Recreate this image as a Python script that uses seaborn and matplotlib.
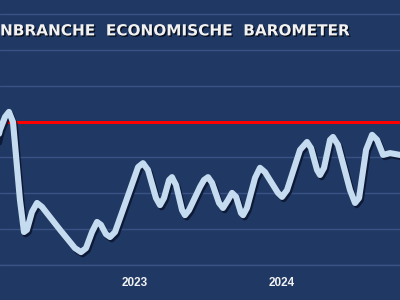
import matplotlib
matplotlib.use("Agg")
import matplotlib.pyplot as plt
import matplotlib.patheffects as pe
import seaborn as sns
import pandas as pd

# month index (12 = 2023 label, 24 = 2024 label)
months = [0.57, 0.98, 1.39, 1.71, 2.04, 2.61, 2.94, 3.18, 3.59, 4.00, 4.41, 5.88, 7.10,
          7.59, 8.00, 8.49, 8.90, 9.22, 9.63, 9.96, 10.37, 11.59, 12.25, 12.65, 13.06,
          13.71, 14.04, 14.37, 14.78, 15.02, 15.35, 15.84, 16.08, 16.41, 17.31, 17.63,
          17.96, 18.29, 18.86, 19.18, 19.59, 19.92, 20.25, 20.65, 20.82, 21.14, 21.80,
          22.20, 22.61, 23.67, 24.00, 24.41, 25.47, 26.04, 26.37, 26.86, 27.10, 27.43,
          27.92, 28.16, 28.57, 29.55, 29.96, 30.29, 30.86, 31.35, 31.76, 32.25, 32.82,
          33.63, 34.45]
barometer = [92.1, 97.7, 101.3, 102.7, 99.9, 78.1, 69.2, 69.8, 74.8, 77.3, 76.2, 69.8, 64.7,
             63.6, 64.7, 69.2, 72.0, 71.2, 68.6, 67.8, 69.2, 80.9, 87.3, 88.4, 86.5,
             78.7, 76.7, 78.7, 83.7, 84.5, 82.3, 75.3, 73.9, 75.3, 81.8, 83.7,
             84.5, 82.9, 77.3, 75.9, 78.1, 80.1, 79.0, 74.5, 73.9, 75.9, 84.3,
             87.1, 85.9, 80.1, 79.0, 80.9, 92.1, 94.3, 92.6, 86.5, 85.1, 87.1,
             94.9, 95.7, 93.5, 80.9, 77.3, 78.7, 92.1, 96.3, 94.9, 90.7, 91.2,
             90.7, 90.4]
reference_level = 100
year_ticks = [12, 24]
year_labels = ["2023", "2024"]
title = "NBRANCHE  ECONOMISCHE  BAROMETER"

df = pd.DataFrame({"maand": months, "barometer": barometer})

BG = "#1f3864"
GRID = "#3a5283"
LINE = "#c5dbf0"

sns.set_style("dark", {"axes.facecolor": BG, "figure.facecolor": BG})
plt.rcParams["font.family"] = ["Liberation Sans", "DejaVu Sans"]

fig = plt.figure(figsize=(4, 3), dpi=100)
fig.patch.set_facecolor(BG)
ax = fig.add_axes([0, 35 / 300, 1, 265 / 300])
ax.set_facecolor(BG)

ax.set_ylim(60, 133.9)
ax.set_xlim(0.98, 33.63)
ax.set_yticks(range(60, 131, 10))
ax.yaxis.grid(True, color=GRID, linewidth=1.0)
ax.xaxis.grid(False)
ax.set_yticklabels([])
ax.tick_params(axis="y", length=0)

ax.axhline(reference_level, color="#ff0000", linewidth=2.2, zorder=2)

sns.lineplot(data=df, x="maand", y="barometer", ax=ax, color=LINE, linewidth=4.4,
             sort=False, zorder=3,
             path_effects=[pe.SimpleLineShadow(offset=(1.2, -1.6), shadow_color="#0b1630", alpha=0.9),
                           pe.Normal()])
for line in ax.lines[1:]:
    line.set_solid_capstyle("round")
    line.set_solid_joinstyle("round")

ax.set_xticks(year_ticks)
ax.set_xticklabels(year_labels, fontsize=8.5, fontweight="bold", color="#f2f2f2")
ax.tick_params(axis="x", length=0, pad=9)
ax.set_xlabel("")
ax.set_ylabel("")
for s in ["top", "left", "right"]:
    ax.spines[s].set_visible(False)
ax.spines["bottom"].set_color(GRID)
ax.spines["bottom"].set_linewidth(1.0)

fig.text(0.0, 0.897, title, ha="left", va="center", fontsize=11, fontweight="bold",
         color="#f2f2f2", family=["DejaVu Sans"],
         path_effects=[pe.withSimplePatchShadow(offset=(1, -1), shadow_rgbFace="black", alpha=0.7)])

fig.savefig("out.png", dpi=100, facecolor=BG)
